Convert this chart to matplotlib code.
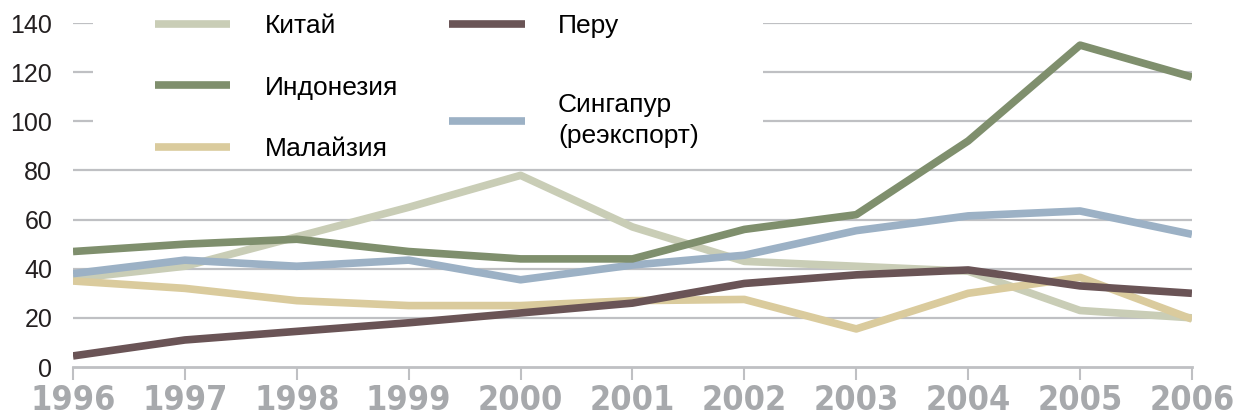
import matplotlib
matplotlib.use("Agg")
import matplotlib.pyplot as plt
from matplotlib import font_manager

years = list(range(1996, 2007))
china = [36, 41, 53, 65, 78, 57, 43, 41, 39, 23, 20]
indonesia = [47, 50, 52, 47, 44, 44, 56, 62, 92, 131, 118]
malaysia = [35, 32, 27, 25, 25, 27, 27.5, 15.5, 30, 36.5, 19.5]
peru = [4.5, 11, 14.5, 18, 22, 26, 34, 37.5, 39.5, 33, 30]
singapore = [38, 43.5, 41, 43.5, 35.5, 41.5, 45.5, 55.5, 61.5, 63.5, 54]

labels1 = ["Китай", "Индонезия", "Малайзия"]
labels2 = ["Перу", "Сингапур\n(реэкспорт)"]
yticks = [0, 20, 40, 60, 80, 100, 120, 140]

c_china = "#c9cdb6"
c_indo = "#7f8f6d"
c_mal = "#dacb9d"
c_peru = "#6a5456"
c_sing = "#9cb1c5"
grid_c = "#bfc0c3"

# look for a condensed bold face for the year labels
xprop = None
fnames = [f.fname for f in font_manager.fontManager.ttflist]
for key in ["SansNarrow-Bold.", "SansCondensed-Bold.", "Condensed-Bold", "Narrow-Bold"]:
    hits = [f for f in fnames if key in f]
    if hits:
        xprop = font_manager.FontProperties(fname=hits[0], size=24.5)
        break
if xprop is None:
    xprop = font_manager.FontProperties(family="DejaVu Sans", weight="bold", size=21)

plt.rcParams['font.family'] = ['Liberation Sans', 'DejaVu Sans']

fig = plt.figure(figsize=(12.33, 4.17), dpi=100)
ax = fig.add_axes([0.0592, 0.1199, 0.9075, 0.8249])

# grid: full lines for 20..80, partial ones behind legend for 100..140
for v in [20, 40, 60, 80]:
    ax.axhline(v, color=grid_c, lw=1.6, zorder=1)
for v in [100, 120, 140]:
    ax.hlines(v, 1996, 1996.18, color=grid_c, lw=1.6, zorder=1)
    ax.hlines(v, 2002.17, 2006, color=grid_c, lw=1.6, zorder=1)

lw = 5.5
l_china, = ax.plot(years, china, color=c_china, lw=lw, zorder=2, solid_capstyle='butt')
l_mal, = ax.plot(years, malaysia, color=c_mal, lw=lw, zorder=2, solid_capstyle='butt')
l_sing, = ax.plot(years, singapore, color=c_sing, lw=lw, zorder=3, solid_capstyle='butt')
l_indo, = ax.plot(years, indonesia, color=c_indo, lw=lw, zorder=4, solid_capstyle='butt')
l_peru, = ax.plot(years, peru, color=c_peru, lw=lw, zorder=5, solid_capstyle='butt')

ax.set_xlim(1996, 2006)
ax.set_ylim(0, 140)
ax.set_yticks(yticks)
ax.set_xticks(years)
ax.tick_params(axis='y', length=0, pad=15, labelsize=18, labelcolor='#231f20')
ax.tick_params(axis='x', length=9, width=1.5, color=grid_c, direction='out', pad=3)
for lab in ax.get_xticklabels():
    lab.set_fontproperties(xprop)
    lab.set_color('#a7a9ac')

for s in ['top', 'right', 'left']:
    ax.spines[s].set_visible(False)
ax.spines['bottom'].set_color(grid_c)
ax.spines['bottom'].set_linewidth(2)

leg1 = ax.legend([l_china, l_indo, l_mal], labels1, loc='upper left',
                 bbox_to_anchor=(155 / 1233, 1 - 14 / 417), bbox_transform=fig.transFigure,
                 frameon=False, fontsize=19, handlelength=2.84, handletextpad=1.33,
                 labelspacing=1.43, borderpad=0, borderaxespad=0)
for h in leg1.get_lines():
    h.set_linewidth(5.5)
ax.add_artist(leg1)

leg2 = ax.legend([l_peru, l_sing], labels2, loc='upper left',
                 bbox_to_anchor=(449 / 1233, 1 - 14 / 417), bbox_transform=fig.transFigure,
                 frameon=False, fontsize=19, handlelength=2.88, handletextpad=1.25,
                 labelspacing=2.1, borderpad=0, borderaxespad=0)
for h in leg2.get_lines():
    h.set_linewidth(5.5)
for t in leg2.get_texts():
    t.set_linespacing(1.35)

fig.savefig("out.png", dpi=100)
